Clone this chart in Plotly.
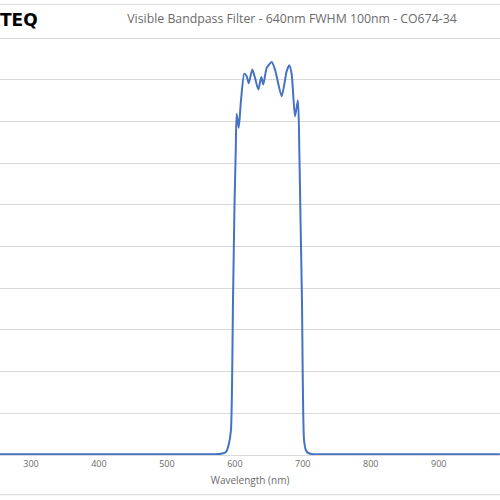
import plotly.graph_objects as go

wavelength = [254, 400, 500, 570, 580, 587, 591, 594.3, 597.3, 599.5, 601.3, 602.7, 605.7, 609, 613.9, 617.4,
              620.4, 625.7, 629.7, 634.5, 638.9, 641.9, 646.9, 654.2, 659.1, 668.9, 676.3, 680.1,
              683.7, 688.5, 692.9, 694.9, 696.8, 698.8, 701.8, 704.5, 707.6, 715, 750, 850, 990]
transmission = [0.2, 0.2, 0.2, 0.2, 0.3, 0.7, 2.5, 6, 37, 60, 73, 81.9, 78.5, 85, 91.5, 90.9,
                89.2, 92.5, 90.5, 87.7, 90.7, 88.9, 92.9, 94.3, 92.5, 86.1, 92.1, 93.5,
                91.3, 81.3, 85.1, 73, 55, 37, 3.6, 1.2, 0.5, 0.2, 0.2, 0.2, 0.2]

grey = "#6b6b6b"

fig = go.Figure(go.Scatter(x=wavelength, y=transmission, mode="lines",
                           line=dict(color="#4472C4", width=2, shape="spline", smoothing=0.6)))

fig.update_layout(
    width=500, height=500,
    margin=dict(l=0, r=0, t=37, b=45, autoexpand=False),
    plot_bgcolor="white", paper_bgcolor="white",
    showlegend=False,
    font=dict(family="Open Sans", color=grey),
    title=dict(text="Visible Bandpass Filter - 640nm FWHM 100nm - CO674-34",
               x=0.584, xanchor="center", y=0.962, yanchor="middle",
               font=dict(size=12.3, color=grey)),
)
fig.update_xaxes(range=[254.4, 990.2], tickvals=[300, 400, 500, 600, 700, 800, 900],
                 showgrid=False, showline=True, linecolor="#d9d9d9", ticks="", automargin=False,
                 tickfont=dict(size=9, color=grey),
                 title=dict(text="Wavelength (nm)", font=dict(size=10, color=grey), standoff=8))
fig.update_yaxes(range=[0, 100.3], dtick=10, showgrid=True, gridcolor="#d9d9d9", automargin=False,
                 showticklabels=False, zeroline=False)

fig.add_annotation(text="<b>TEQ</b>", xref="paper", yref="paper", x=-0.005, y=1.04,
                   xanchor="left", yanchor="middle", showarrow=False,
                   font=dict(family="DejaVu Sans", size=17, color="black"))
fig.add_shape(type="line", xref="paper", yref="paper", x0=0, x1=1, y0=1.078, y1=1.078,
              line=dict(color="#d9d9d9", width=1))
fig.add_shape(type="line", xref="paper", yref="paper", x0=0, x1=1, y0=-0.095, y1=-0.095,
              line=dict(color="#d9d9d9", width=1))

fig.write_html("out.html", config={"displayModeBar": False},
               post_script="document.body.style.margin='0';")
